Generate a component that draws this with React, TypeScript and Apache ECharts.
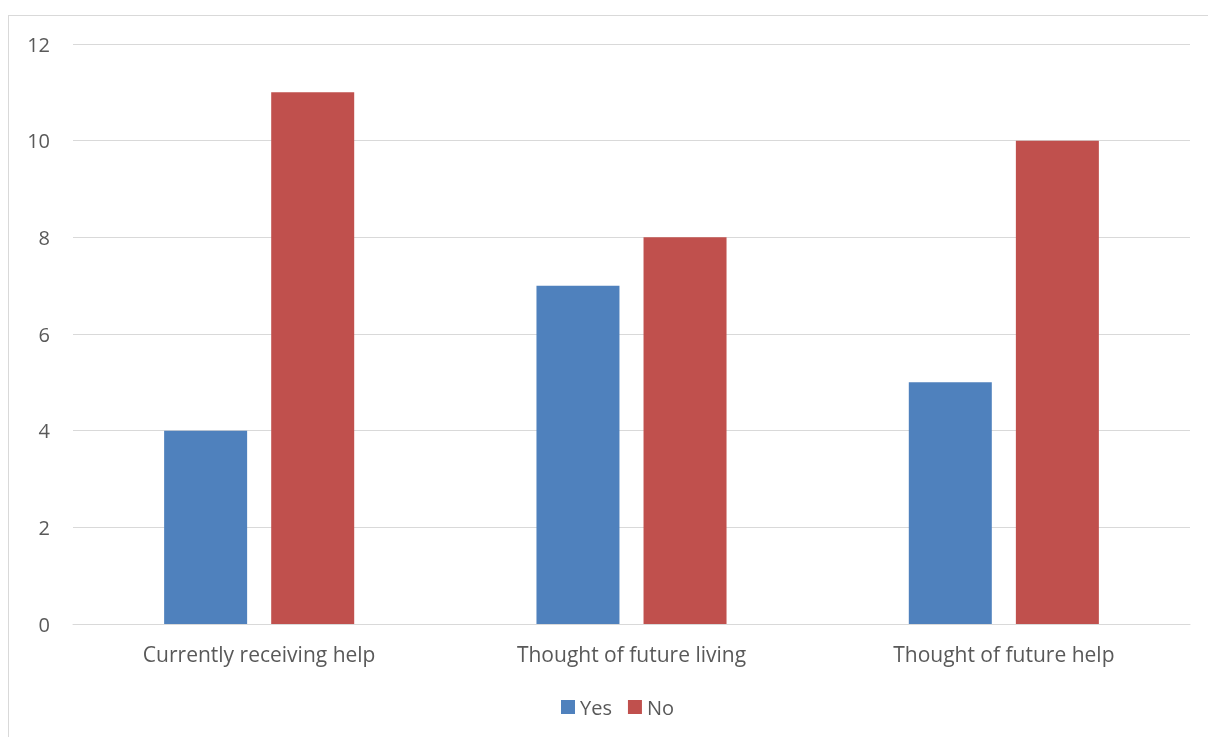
import React, { useEffect, useRef } from "react";
import * as echarts from "echarts";

const categories = ["Currently receiving help", "Thought of future living", "Thought of future help"];
const yesValues = [4, 7, 5];
const noValues = [11, 8, 10];
const seriesNames = ["Yes", "No"];

export default function App() {
  const ref = useRef<HTMLDivElement>(null);
  useEffect(() => {
    if (!ref.current) return;
    document.documentElement.style.overflow = "hidden";
    document.body.style.overflow = "hidden";
    const chart = echarts.init(ref.current, null, { renderer: "svg" });
    const font = "'Open Sans', 'Noto Sans', sans-serif";
    chart.setOption({
      animation: false,
      textStyle: { fontFamily: font },
      grid: { left: 65, right: 18, top: 36, bottom: 113, containLabel: false },
      legend: {
        data: seriesNames,
        top: 684,
        left: 548,
        itemWidth: 14,
        itemHeight: 14,
        itemGap: 16,
        icon: "rect",
        textStyle: { color: "#595959", fontSize: 20, fontFamily: font },
      },
      xAxis: {
        type: "category",
        data: categories,
        axisLine: { show: true, lineStyle: { color: "#D9D9D9", width: 1 } },
        axisTick: { show: false },
        axisLabel: { color: "#595959", fontSize: 21, margin: 19, fontFamily: font },
      },
      yAxis: {
        type: "value",
        min: 0,
        max: 12,
        interval: 2,
        axisLine: { show: false },
        axisTick: { show: false },
        splitLine: { lineStyle: { color: "#D9D9D9", width: 1 } },
        axisLabel: { color: "#595959", fontSize: 20, margin: 23, fontFamily: font },
      },
      series: [
        {
          name: "Yes",
          type: "bar",
          data: yesValues,
          barWidth: 83,
          barGap: "29%",
          itemStyle: { color: "#4F81BD" },
        },
        {
          name: "No",
          type: "bar",
          data: noValues,
          barWidth: 83,
          barGap: "29%",
          itemStyle: { color: "#C0504D" },
        },
      ],
    });
    return () => chart.dispose();
  }, []);
  return (
    <div style={{ position: "fixed", left: 8, top: 8, width: 1200, height: 729, overflow: "hidden" }}>
      <div
        style={{
          position: "absolute",
          left: 0,
          top: 7,
          width: 1300,
          height: 800,
          borderLeft: "1px solid #D9D9D9",
          borderTop: "1px solid #D9D9D9",
          boxSizing: "border-box",
        }}
      />
      <div ref={ref} style={{ position: "absolute", left: 0, top: 0, width: 1200, height: 729 }} />
    </div>
  );
}
